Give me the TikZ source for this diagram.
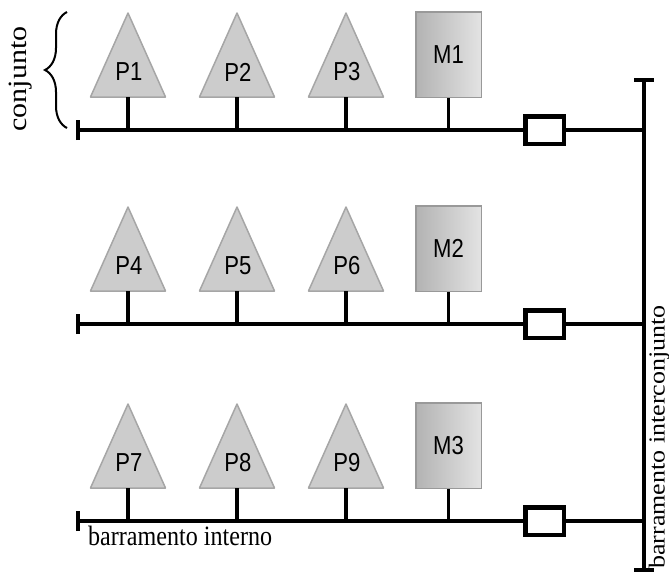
\documentclass[tikz,border=0pt]{standalone}
\usepackage{fontspec}
\setmainfont{Liberation Serif}
\newfontfamily\lblfont{Liberation Sans}
\usetikzlibrary{decorations.pathreplacing}
\begin{document}
\begin{tikzpicture}[x=1pt,y=-1pt,
  bus/.style={line width=4.5pt},
  stub/.style={line width=3.5pt},
  tickline/.style={line width=4pt},
  tri/.style={fill=gray!40, draw=gray!70, line width=1.5pt, line join=round},
  mbox/.style={draw=gray!80, line width=1.5pt, left color=gray!60, right color=gray!22,
    minimum width=65.5pt, minimum height=85.5pt, inner sep=0pt},
  swbox/.style={draw, line width=4.5pt, fill=white, minimum width=38.5pt,
    minimum height=27.5pt, inner sep=0pt},
  lbl/.style={font=\lblfont\fontsize{26}{26}\selectfont, inner sep=0pt},
  serifbig/.style={font=\fontsize{30}{30}\selectfont, inner sep=0pt},
  serifmid/.style={font=\fontsize{26}{26}\selectfont, inner sep=0pt},
]
\useasboundingbox (0,0) rectangle (669,574);

% interconnection bar
\coordinate (T) at (644,80);
\coordinate (B) at (644,570);
\draw[tickline] (T) -- (B);
\draw[tickline] ([xshift=-10pt]T) -- ([xshift=10pt]T);
\draw[tickline] ([xshift=-10pt]B) -- ([xshift=10pt]B);

\foreach \r/\y/\pa/\pb/\pc/\mm in {1/130/P1/P2/P3/M1, 2/324/P4/P5/P6/M2, 3/521/P7/P8/P9/M3}{
  \coordinate (L\r) at (78,\y);
  \coordinate (R\r) at (644,\y);
  \node[swbox] (S\r) at (544.5,\y) {};
  \draw[bus] (L\r) -- (S\r.west);
  \draw[bus] (S\r.east) -- (R\r);
  \draw[tickline] ([yshift=-10pt]L\r) -- ([yshift=10pt]L\r);
  \foreach \i/\xx/\nm in {1/128/\pa, 2/237/\pb, 3/346/\pc}{
    \path[tri] (\xx-37.5,\y-33) -- (\xx,\y-117) -- (\xx+37.5,\y-33) -- cycle;
    \coordinate (b\r\i) at (\xx,\y-33);
    \coordinate (j\r\i) at (\xx,\y);
    \node[lbl] (t\r\i) at (\xx+1,\y-58) {\scalebox{0.85}[1]{\nm}};
    \draw[stub] (b\r\i) -- (j\r\i);
  }
  \node[mbox] (m\r) at (448.5,\y-75.5) {\lblfont\fontsize{26}{26}\selectfont\scalebox{0.85}[1]{\mm}};
  \coordinate (mj\r) at (448.5,\y);
  \draw[stub] (m\r.south) -- (mj\r);
}

% labels
\draw[line width=2pt, decorate, decoration={brace, amplitude=22pt}] (67,128) -- (67,12);
\node[serifbig, rotate=90] (conj) at (21,79) {\scalebox{1}[0.88]{conjunto}};
\node[serifmid, rotate=90] (inter) at (659,437) {\scalebox{1}[0.88]{barramento interconjunto}};
\node[anchor=base west, inner sep=0pt, font=\fontsize{28}{28}\selectfont] (interno) at (88,545) {\scalebox{0.86}[1]{barramento interno}};
\end{tikzpicture}
\end{document}
